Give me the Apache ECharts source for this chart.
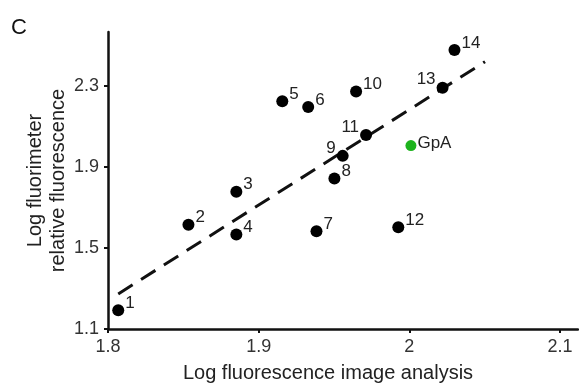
<!DOCTYPE html>
<html>
<head>
<meta charset="utf-8">
<script src="https://cdn.jsdelivr.net/npm/echarts@6/dist/echarts.min.js"></script>
<style>html,body{margin:0;padding:0;background:#fff}#c{width:579px;height:388px}</style>
</head>
<body>
<div id="c"></div>
<script>
const names = ['1','2','3','4','5','6','7','8','9','10','11','12','13','14'];
const xVals = [1.8068,1.8534,1.8852,1.8852,1.9157,1.9329,1.9384,1.9503,1.9558,1.9647,1.9713,1.9927,2.0221,2.0300];
const yVals = [1.192,1.614,1.777,1.566,2.223,2.195,1.582,1.842,1.954,2.272,2.057,1.602,2.290,2.476];
const leftLabeled = ['9','11','13'];
const gpaName = 'GpA';
const gpaX = [2.0011];
const gpaY = [2.005];
const trendX = [1.8068, 2.0503];
const trendY = [1.273, 2.4185];
const xTicks = [1.8, 1.9, 2, 2.1];
const yTicks = [1.1, 1.5, 1.9, 2.3];

const font = 'Liberation Sans, Arial, sans-serif';
const labelRight = {position: 'right', distance: 1, offset: [0, -7]};
const labelLeft = {position: 'left', distance: 1, offset: [0, -8]};
const chart = echarts.init(document.getElementById('c'));
chart.setOption({
  animation: false,
  backgroundColor: '#fff',
  title: {text: 'C', left: 6, top: 12, textStyle: {fontFamily: font, fontSize: 22, fontWeight: 'normal', color: '#111'}},
  grid: {left: 108, top: 32, right: 1, bottom: 57},
  xAxis: {
    type: 'value', min: 1.8, max: 2.112,
    name: 'Log fluorescence image analysis', nameLocation: 'middle', nameGap: 34,
    nameTextStyle: {fontFamily: font, fontSize: 20, color: '#222', padding: [0, 30, 0, 0]},
    axisLine: {lineStyle: {color: '#111', width: 2.5}},
    axisTick: {show: true, length: 4, lineStyle: {color: '#111', width: 2}, customValues: xTicks},
    axisLabel: {fontFamily: font, fontSize: 18, color: '#333', margin: 9, customValues: xTicks,
      formatter: v => String(+v.toFixed(2))},
    splitLine: {show: false}
  },
  yAxis: {
    type: 'value', min: 1.1, max: 2.565,
    name: 'Log fluorimeter\nrelative fluorescence', nameLocation: 'middle', nameGap: 38,
    nameMoveOverlap: false,
    nameTextStyle: {fontFamily: font, fontSize: 20, color: '#222', lineHeight: 23},
    axisLine: {show: true, lineStyle: {color: '#111', width: 2.5}},
    axisTick: {show: true, length: 4, lineStyle: {color: '#111', width: 2}, customValues: yTicks},
    axisLabel: {fontFamily: font, fontSize: 18, color: '#333', margin: 9, customValues: yTicks,
      formatter: v => String(+v.toFixed(2))},
    splitLine: {show: false}
  },
  series: [
    {
      type: 'line', data: trendX.map((x, i) => [x, trendY[i]]), symbol: 'none', z: 1,
      lineStyle: {color: '#111', width: 3, type: [17, 10]}
    },
    {
      type: 'scatter', symbolSize: 12, z: 3,
      data: xVals.map((x, i) => ({value: [x, yVals[i]], name: names[i],
        label: leftLabeled.includes(names[i]) ? labelLeft : labelRight})),
      itemStyle: {color: '#000', opacity: 1},
      label: {show: true, formatter: p => p.name, fontFamily: font, fontSize: 17, color: '#222'}
    },
    {
      type: 'scatter', symbolSize: 11, z: 3,
      data: gpaX.map((x, i) => ({value: [x, gpaY[i]], name: gpaName})),
      itemStyle: {color: '#1db31d', opacity: 1},
      label: {show: true, position: 'right', distance: 1, offset: [0, -2], formatter: p => p.name,
        fontFamily: font, fontSize: 17, color: '#222'}
    }
  ]
});
</script>
</body>
</html>
